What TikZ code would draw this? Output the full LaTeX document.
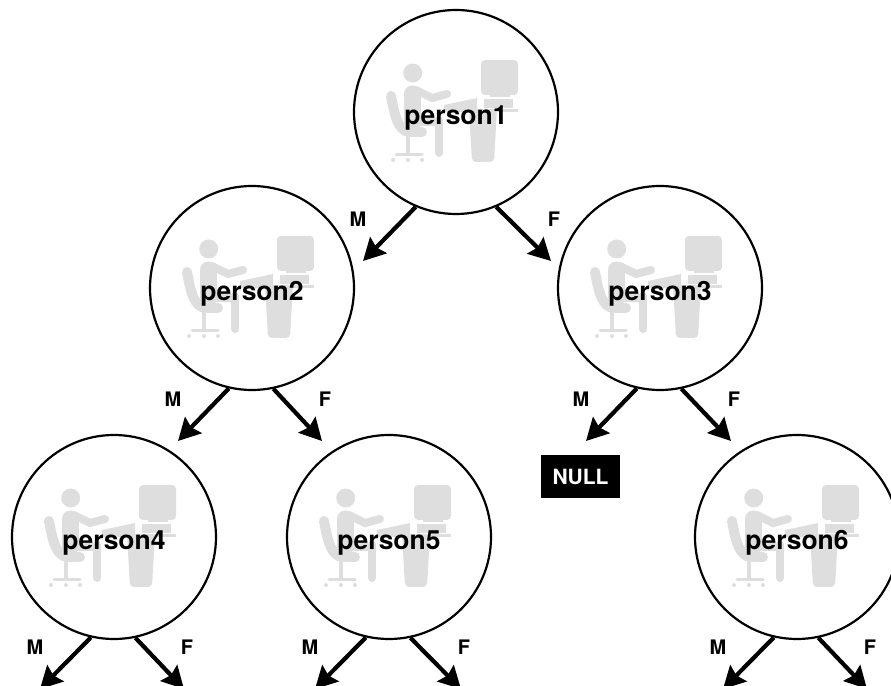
\documentclass[tikz,border=0pt]{standalone}
\usepackage{fontspec}
\setmainfont{TeX Gyre Heros}
\usetikzlibrary{arrows.meta, positioning, backgrounds}
\definecolor{icongray}{gray}{.87}
\newcommand{\personicon}[1]{%
  \begin{scope}[shift={(#1.center)},icongray]
    % person
    \fill (-43.3,39) circle (9.5pt);
    \draw[line width=17pt,line cap=round] (-44,18) -- (-44,-10);
    \draw[line width=8pt,line cap=round] (-40,22) -- (-24,14) -- (-9,18);
    \draw[line width=10pt,line cap=round] (-65,16) .. controls (-61,-5) and (-58,-19) .. (-46,-20) -- (-34,-20);
    \draw[line width=8pt,line cap=round] (-40,-10) -- (-20,-10);
    \draw[line width=8pt,line cap=round] (-17,-8) -- (-17,-41);
    % chair
    \draw[line width=4pt] (-48,-20) -- (-48,-42);
    \draw[line width=3pt,line cap=round] (-60,-42.5) -- (-34,-42.5);
    \foreach \cx in {-63,-48,-34} \fill (\cx,-48) circle (2pt);
    % desk and screen
    \fill[rounded corners=4pt] (25,52) rectangle (62,17);
    \fill (34,16.5) rectangle (54,14.5);
    \fill (28,13) rectangle (57,4);
    \fill (10,3) rectangle (62,0);
    \fill (-12,7) -- (21,14) -- (21,0) -- (-12,0) -- cycle;
    \fill[rounded corners=4pt] (13,3) -- (41,3) -- (38,-50) -- (16,-50) -- cycle;
  \end{scope}}
\tikzset{
  person/.style={circle,draw,line width=2.2pt,minimum size=204pt,inner sep=0pt,
    font=\fontsize{26.5}{28}\bfseries,text height=27pt,text depth=2pt},
  branch/.style={-{Stealth[length=22pt,width=23pt,inset=3pt]},line width=4.2pt},
  sex/.style={font=\fontsize{20}{21}\bfseries,inner sep=0pt},
  nullbox/.style={fill=black,text=white,font=\fontsize{21}{22}\bfseries,minimum width=79pt,minimum height=43pt,inner sep=0pt}
}
% arrows with their M and F labels under a person
\newcommand{\children}[5]{%
  \coordinate (#1M) at ([shift={(-#2,-#4)}]#1.center);
  \coordinate (#1F) at ([shift={(#3,-#4)}]#1.center);
  \draw[branch] (#1.{270-#5}) -- (#1M);
  \draw[branch] (#1.{270+#5}) -- (#1F);
  \node[sex] (#1m) at ([shift={(-#2-5,-#4+42)}]#1.center) {M};
  \node[sex] (#1f) at ([shift={(#3+3,-#4+42)}]#1.center) {F};}
\begin{document}
\begin{tikzpicture}[x=1pt,y=1pt]
  \useasboundingbox (0,0) rectangle (891,685);
  \clip (0,0) rectangle (891,685);
  \node[person] (person1) at (456,573) {person1};
  \node[person, below of=person1, node distance=176pt, xshift=-204pt] (person2) {person2};
  \node[person, below of=person1, node distance=176pt, xshift=204pt] (person3) {person3};
  \node[person, below of=person2, node distance=249pt, xshift=-138pt] (person4) {person4};
  \node[person, below of=person2, node distance=249pt, xshift=137pt] (person5) {person5};
  \node[person, below of=person3, node distance=249pt, xshift=137pt] (person6) {person6};
  \node[nullbox] (null) at (580.5,208.5) {NULL};
  \begin{scope}[on background layer]
    \foreach \n in {1,...,6} \personicon{person\n};
  \end{scope}
  \children{person1}{93}{95}{149}{23}
  \children{person2}{74}{70}{153}{12.5}
  \children{person3}{74}{71}{153}{12.5}
  \children{person4}{74}{70}{152}{12.5}
  \children{person5}{74}{72}{152}{12.5}
  \children{person6}{74}{70}{152}{12.5}
\end{tikzpicture}
\end{document}
